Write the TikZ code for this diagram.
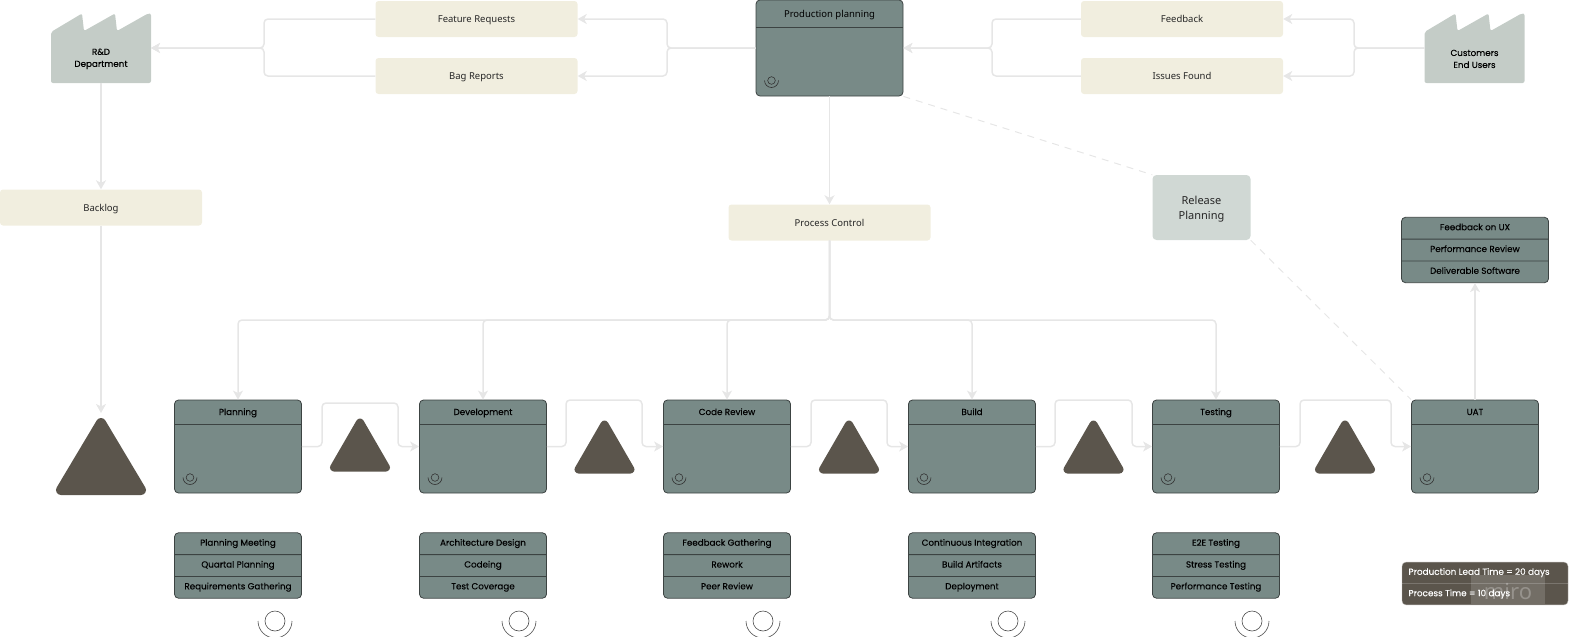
\documentclass[tikz,border=0pt]{standalone}
\usepackage{fontspec}
\setmainfont{Noto Sans}
\newfontfamily\boxfont[FakeBold=0.15]{Poppins}
\usetikzlibrary{arrows.meta,shapes.geometric,shapes.multipart}
\definecolor{flowgray}{HTML}{E6E6E6}
\definecolor{boxteal}{HTML}{788A87}
\definecolor{boxedge}{HTML}{3C4342}
\definecolor{noteyellow}{HTML}{F1EEDF}
\definecolor{factorygray}{HTML}{C4CCC7}
\definecolor{releasegray}{HTML}{D0D8D4}
\definecolor{invbrown}{HTML}{5B554C}
\tikzset{
	flow/.style={draw=flowgray,line width=1.5pt,rounded corners=4pt},
	dashflow/.style={draw=flowgray,line width=1pt,dash pattern=on 7pt off 6pt},
	notebox/.style={fill=noteyellow,rounded corners=3pt,minimum width=202pt,minimum height=36pt,inner sep=0pt,text height=8pt,text depth=1pt,text=black!85,font=\fontsize{9.5}{12}\selectfont},
	factorytext/.style={minimum width=100pt,minimum height=69pt,inner sep=0pt,outer sep=0pt,align=center,font=\boxfont\fontsize{8.75}{12}\selectfont},
	factory/.pic={
		\fill[factorygray,rounded corners=2pt]
			(-50,35)--(-50,-16)--(-19,-34.5)--(-17,-17)--(14,-34.5)--(16,-17)--(47,-34.5)--(50,-34.5)--(50,35)--cycle;},
	procbox/.style={draw=boxedge,fill=boxteal,line width=.8pt,rounded corners=4pt,minimum width=127pt,text height=8pt,text depth=71pt,inner ysep=7pt,inner xsep=0pt,font=\boxfont\fontsize{8.75}{10}\selectfont,path picture={
		\draw[boxedge,line width=.9pt]([yshift=-#1pt]path picture bounding box.north west)--([yshift=-#1pt]path picture bounding box.north east);
		\coordinate (ic) at ([shift={(15.5pt,15.5pt)}]path picture bounding box.south west);
		\draw[black!80,line width=.6pt](ic) circle (3.8pt);
		\draw[black!80,line width=.6pt]([shift={(180:7pt)}]ic) arc (180:360:7pt);}},
	listbox/.style={draw=boxedge,fill=boxteal,line width=.8pt,rounded corners=4pt,rectangle split,rectangle split parts=3,minimum width=127pt,inner ysep=5.5pt,inner xsep=0pt,font=\boxfont\fontsize{8.75}{10}\selectfont},
	invtri/.style={isosceles triangle,isosceles triangle stretches,shape border rotate=90,anchor=apex,draw=invbrown,fill=invbrown,line width=8pt,line join=round,inner sep=0pt,outer sep=0pt,minimum width=52pt,minimum height=45pt},
	operator/.pic={
		\draw[black!70,line width=.6pt](0,0) circle (10pt);
		\draw[black!70,line width=.6pt](180:17pt) arc (180:360:17pt);}
}
\begin{document}
\begin{tikzpicture}[x=1pt,y=-1pt,>={Stealth[length=9pt,width=10pt,inset=2.5pt]}]
	\useasboundingbox (0,0) rectangle (1569,637);
	\pic at (101,48) {factory};
	\pic at (1474.5,48) {factory};
	\node[factorytext] (rnd) at (101,48) {\mbox{}\\[16pt]R\&D\\Department};
	\node[factorytext] (cust) at (1474.5,48) {\mbox{}\\[16pt]Customers\\End Users};
	\node[notebox] (feat) at (476.5,19) {Feature Requests};
	\node[notebox] (bag) at (476.5,76) {Bag Reports};
	\node[notebox] (fback) at (1182,19) {Feedback};
	\node[notebox] (issues) at (1182,76) {Issues Found};
	\node[notebox] (backlog) at (101,207.5) {Backlog};
	\node[notebox] (pc) at (829.5,222.5) {Process Control};
	\node[procbox=27,minimum width=147pt,text height=8pt,text depth=70pt,inner ysep=9pt,font=\fontsize{9.5}{12}\selectfont] (prod) at (829.5,48) {Production planning};
	\node[fill=releasegray,rounded corners=4pt,minimum width=98pt,minimum height=65pt,inner sep=0pt,align=center,text=black!85,font=\fontsize{11}{15}\selectfont] (rel) at (1201.5,207.5) {\mbox{}\\[-3pt]Release\\Planning};
	\node[invtri,line width=10pt,minimum width=80pt,minimum height=67pt] (inv0) at (101,423) {};
	\node[procbox=24] (plan) at (238,446.5) {Planning};
	\node[invtri] (inv1) at (360,422.5) {};
	\node[procbox=24] (dev) at (483,446.5) {Development};
	\node[invtri] (inv2) at (604.5,424.5) {};
	\node[procbox=24] (review) at (727,446.5) {Code Review};
	\node[invtri] (inv3) at (849,424.5) {};
	\node[procbox=24] (build) at (972,446.5) {Build};
	\node[invtri] (inv4) at (1093.5,424.5) {};
	\node[procbox=24] (test) at (1216,446.5) {Testing};
	\node[invtri] (inv5) at (1345,424.5) {};
	\node[procbox=24] (uat) at (1475,446.5) {UAT};
	\node[listbox] (planlist) at (238,565.5) {\strut Planning Meeting\nodepart{two}\strut Quartal Planning\nodepart{three}\strut Requirements Gathering};
	\node[listbox] (devlist) at (483,565.5) {\strut Architecture Design\nodepart{two}\strut Codeing\nodepart{three}\strut Test Coverage};
	\node[listbox] (reviewlist) at (727,565.5) {\strut Feedback Gathering\nodepart{two}\strut Rework\nodepart{three}\strut Peer Review};
	\node[listbox] (buildlist) at (972,565.5) {\strut Continuous Integration\nodepart{two}\strut Build Artifacts\nodepart{three}\strut Deployment};
	\node[listbox] (testlist) at (1216,565.5) {\strut E2E Testing\nodepart{two}\strut Stress Testing\nodepart{three}\strut Performance Testing};
	\node[listbox,minimum width=147pt] (uxlist) at (1475,250) {\strut Feedback on UX\nodepart{two}\strut Performance Review\nodepart{three}\strut Deliverable Software};
	\node[draw=invbrown!45,fill=invbrown,rounded corners=4pt,rectangle split,rectangle split parts=2,rectangle split part align=left,minimum width=166pt,inner ysep=5.5pt,inner xsep=6.5pt,text=white,font=\boxfont\fontsize{8.85}{10}\selectfont] (time) at (1485,583.5) {\strut Production Lead Time = 20 days\nodepart{two}\strut Process Time = 10 days};
	\node[fill=white,fill opacity=.15,text opacity=.25,text=white,minimum width=74pt,minimum height=29pt,inner sep=0pt,text height=19pt,text depth=0pt,font=\fontsize{22}{24}\selectfont] (wmark) at (1508,589.5) {miro};
	\pic at (275,621) {operator};
	\pic at (519,621) {operator};
	\pic at (763,621) {operator};
	\pic at (1008,621) {operator};
	\pic at (1252,621) {operator};
	\draw[flow,->](prod.west)--(667,48)|-(feat.east);
	\draw[flow,->](prod.west)--(667,48)|-(bag.east);
	\draw[flow,->](feat.west)--(264,19)|-(rnd.east);
	\draw[flow,->](bag.west)--(264,76)|-(rnd.east);
	\draw[flow,->](cust.west)--(1354,48)|-(fback.east);
	\draw[flow,->](cust.west)--(1354,48)|-(issues.east);
	\draw[flow,->](fback.west)--(992,19)|-(prod.east);
	\draw[flow,->](issues.west)--(992,76)|-(prod.east);
	\draw[flow,->](rnd.south)--(backlog.north);
	\draw[flow,->,shorten >=10pt](backlog.south)--(inv0.apex);
	\draw[flow,->](prod.south)--(pc.north);
	\draw[flow,->](pc.south)--(829.5,320)-|(plan.north);
	\draw[flow,->](pc.south)--(829.5,320)-|(dev.north);
	\draw[flow,->](pc.south)--(829.5,320)-|(review.north);
	\draw[flow,->](pc.south)--(829.5,320)-|(build.north);
	\draw[flow,->](pc.south)--(829.5,320)-|(test.north);
	\draw[flow,->](plan.east)-|(322,403)-|(398,446.5)--(dev.west);
	\draw[flow,->](dev.east)-|(566,400)-|(642,446.5)--(review.west);
	\draw[flow,->](review.east)-|(811,400)-|(887,446.5)--(build.west);
	\draw[flow,->](build.east)-|(1055,400)-|(1132,446.5)--(test.west);
	\draw[flow,->](test.east)-|(1300,400)-|(1391,446.5)--(uat.west);
	\draw[flow,->](uat.north)--(uxlist.south);
	\draw[dashflow](prod.south east)--(rel.north west);
	\draw[dashflow](rel.south east)--(uat.north west);
\end{tikzpicture}
\end{document}
